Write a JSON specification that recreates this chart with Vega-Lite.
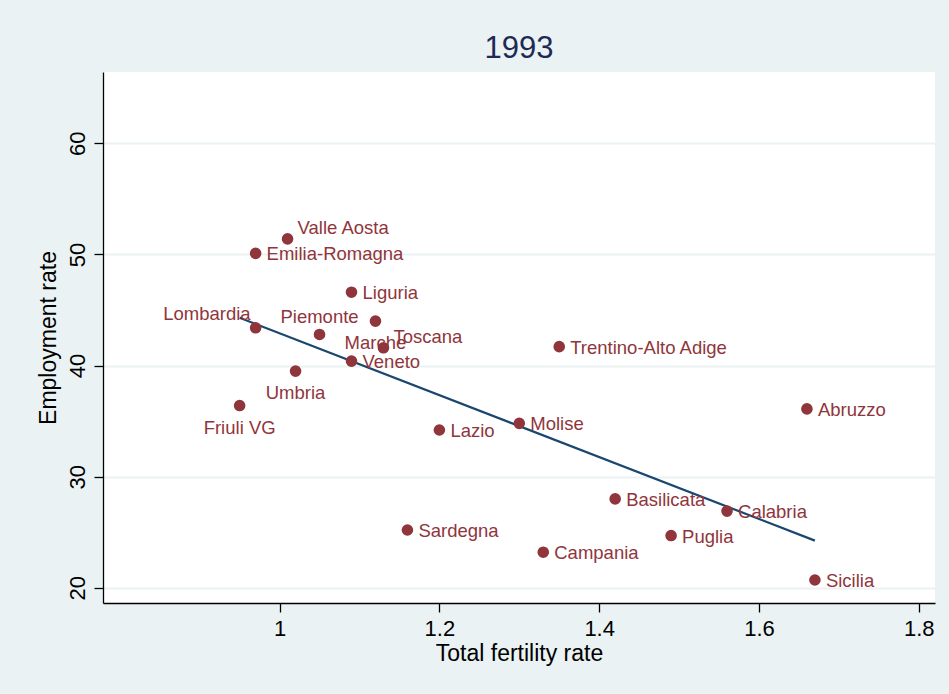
{
  "$schema": "https://vega.github.io/schema/vega-lite/v6.json",
  "width": 832,
  "height": 531,
  "autosize": {"type": "none"},
  "padding": {"left": 103, "top": 72, "right": 14, "bottom": 91},
  "background": "#EAF2F3",
  "title": {
    "text": "1993",
    "font": "Liberation Sans",
    "fontSize": 31,
    "fontWeight": "normal",
    "color": "#1E2A55",
    "anchor": "middle",
    "baseline": "bottom",
    "offset": 5,
    "dy": 29
  },
  "config": {
    "view": {"fill": "white", "stroke": null},
    "axis": {
      "labelFont": "Liberation Sans",
      "titleFont": "Liberation Sans",
      "labelFontSize": 22,
      "titleFontSize": 23,
      "labelColor": "#000000",
      "titleColor": "#000000",
      "titleFontWeight": "normal",
      "domainColor": "#000000",
      "domainWidth": 1.3,
      "tickColor": "#000000",
      "tickWidth": 1.3,
      "tickSize": 9
    }
  },
  "data": {
    "values": [
      {"region": "Valle Aosta", "tfr": 1.01, "emp": 51.4},
      {"region": "Emilia-Romagna", "tfr": 0.97, "emp": 50.1},
      {"region": "Liguria", "tfr": 1.09, "emp": 46.6},
      {"region": "Lombardia", "tfr": 0.97, "emp": 43.4},
      {"region": "Piemonte", "tfr": 1.05, "emp": 42.8},
      {"region": "Marche", "tfr": 1.12, "emp": 44.0},
      {"region": "Toscana", "tfr": 1.13, "emp": 41.6},
      {"region": "Veneto", "tfr": 1.09, "emp": 40.4},
      {"region": "Umbria", "tfr": 1.02, "emp": 39.5},
      {"region": "Friuli VG", "tfr": 0.95, "emp": 36.4},
      {"region": "Lazio", "tfr": 1.20, "emp": 34.2},
      {"region": "Molise", "tfr": 1.30, "emp": 34.8},
      {"region": "Trentino-Alto Adige", "tfr": 1.35, "emp": 41.7},
      {"region": "Abruzzo", "tfr": 1.66, "emp": 36.1},
      {"region": "Basilicata", "tfr": 1.42, "emp": 28.0},
      {"region": "Calabria", "tfr": 1.56, "emp": 26.9},
      {"region": "Puglia", "tfr": 1.49, "emp": 24.7},
      {"region": "Sardegna", "tfr": 1.16, "emp": 25.2},
      {"region": "Campania", "tfr": 1.33, "emp": 23.2},
      {"region": "Sicilia", "tfr": 1.67, "emp": 20.7}
    ]
  },
  "encoding": {
    "x": {
      "field": "tfr",
      "type": "quantitative",
      "title": "Total fertility rate",
      "scale": {"domain": [0.779, 1.8203], "nice": false, "zero": false},
      "axis": {
        "values": [1, 1.2, 1.4, 1.6, 1.8],
        "format": "~g",
        "grid": false,
        "labelPadding": 6,
        "titlePadding": 3
      }
    },
    "y": {
      "field": "emp",
      "type": "quantitative",
      "title": "Employment rate",
      "scale": {"domain": [18.63, 66.42], "nice": false, "zero": false},
      "axis": {
        "values": [20, 30, 40, 50, 60],
        "grid": true,
        "gridColor": "#EAF2F3",
        "gridWidth": 2,
        "labelAngle": -90,
        "labelAlign": "center",
        "labelBaseline": "bottom",
        "labelPadding": 5,
        "titlePadding": 6
      }
    }
  },
  "layer": [
    {
      "transform": [{"regression": "emp", "on": "tfr"}],
      "mark": {"type": "line", "color": "#1A476F", "strokeWidth": 2.2}
    },
    {
      "mark": {"type": "circle", "size": 135, "color": "#90353B", "opacity": 1}
    },
    {
      "transform": [{"filter": {"not": {"field": "region", "oneOf": ["Valle Aosta", "Toscana", "Lombardia", "Piemonte", "Marche", "Umbria", "Friuli VG"]}}}],
      "mark": {"type": "text", "align": "left", "baseline": "middle", "dx": 11, "dy": 1, "font": "Liberation Sans", "fontSize": 18.5, "color": "#90353B"},
      "encoding": {"text": {"field": "region"}}
    },
    {
      "transform": [{"filter": {"field": "region", "oneOf": ["Valle Aosta", "Toscana"]}}],
      "mark": {"type": "text", "align": "left", "baseline": "middle", "dx": 10, "dy": -11, "font": "Liberation Sans", "fontSize": 18.5, "color": "#90353B"},
      "encoding": {"text": {"field": "region"}}
    },
    {
      "transform": [{"filter": {"field": "region", "oneOf": ["Lombardia"]}}],
      "mark": {"type": "text", "align": "right", "baseline": "middle", "dx": -5, "dy": -14, "font": "Liberation Sans", "fontSize": 18.5, "color": "#90353B"},
      "encoding": {"text": {"field": "region"}}
    },
    {
      "transform": [{"filter": {"field": "region", "oneOf": ["Piemonte"]}}],
      "mark": {"type": "text", "align": "center", "baseline": "middle", "dx": 0, "dy": -17, "font": "Liberation Sans", "fontSize": 18.5, "color": "#90353B"},
      "encoding": {"text": {"field": "region"}}
    },
    {
      "transform": [{"filter": {"field": "region", "oneOf": ["Marche", "Umbria", "Friuli VG"]}}],
      "mark": {"type": "text", "align": "center", "baseline": "middle", "dx": 0, "dy": 22, "font": "Liberation Sans", "fontSize": 18.5, "color": "#90353B"},
      "encoding": {"text": {"field": "region"}}
    }
  ]
}
